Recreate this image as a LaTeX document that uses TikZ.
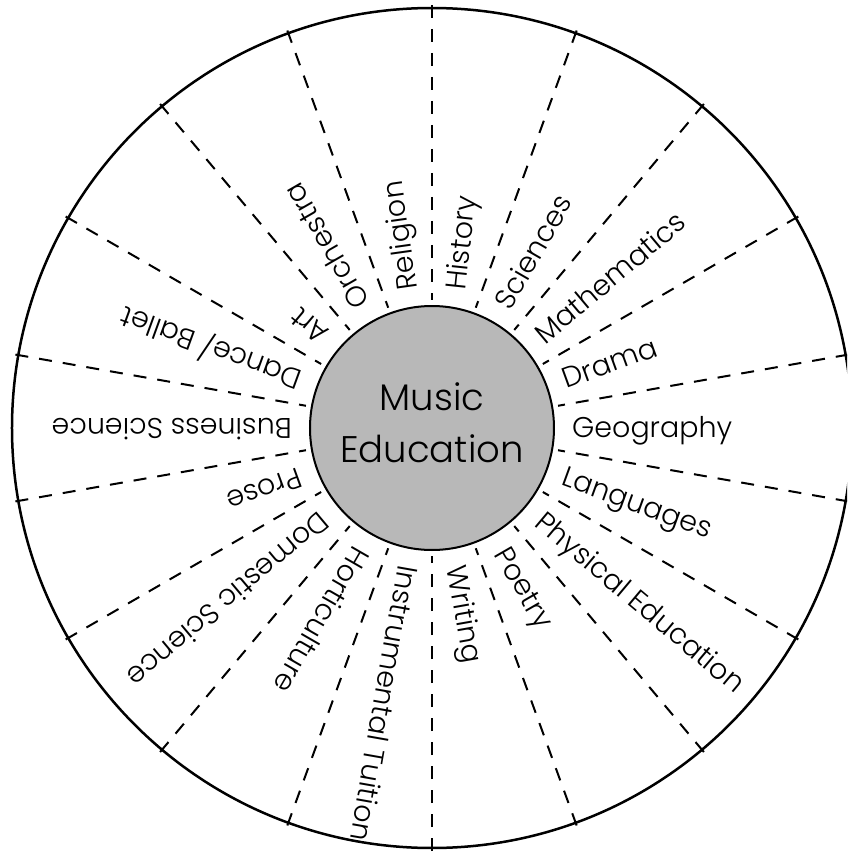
\documentclass[tikz,border=0pt]{standalone}
\usepackage{fontspec}
\IfFontExistsTF{Poppins Light}{\setmainfont{Poppins Light}}{\setmainfont{Poppins}}
\begin{document}
\begin{tikzpicture}[x=1pt,y=1pt,
  outer/.style={line width=2.5pt},
  spoke/.style={line width=2pt, dash pattern=on 13pt off 11pt},
  hub/.style={circle, draw, line width=2pt, fill=black!28, minimum size=244pt, inner sep=0pt},
  lab/.style={font=\fontsize{28.5}{32}\selectfont, inner sep=0pt, text height=19pt, text depth=0pt, anchor=west},
  ttl/.style={font=\fontsize{37}{52}\selectfont, align=center, inner sep=0pt}]
\useasboundingbox (-432pt,-424pt) rectangle (415pt,428pt);
\clip (-432pt,-424pt) rectangle (415pt,428pt);
\node[hub] (hub) at (0,0) {};
\node[ttl] (title) at (0,5.5) {Music\\Education};
\draw[outer] (0,0) circle (420pt);
\foreach \k in {0,...,17} {
  \coordinate (o\k) at ({90-20*\k}:423pt);
  \coordinate (i\k) at ({90-20*\k}:128pt);
  \draw[spoke] (o\k) -- (i\k);
}
\foreach \a/\r/\t [count=\i] in {80/84/History, 60/60/Sciences, 40/40/Mathematics, 20/20/Drama, 0/0/Geography, -20/-20/Languages, -40/-40/{Physical Education}, -60/-60/Poetry, -80/-80/Writing, -100/-100/{Instrumental Tuition}, -120/-120/Horticulture, -140/-140/{Domestic Science}, -160/-160/Prose, -180/-180/{Business Science}, 160/160/{Dance/ Ballet}, 140/140/Art, 120/120/Orchestra, 100/98/Religion}
  \node[lab, rotate=\r] (l\i) at (\a:140pt) {\t};
\end{tikzpicture}
\end{document}
